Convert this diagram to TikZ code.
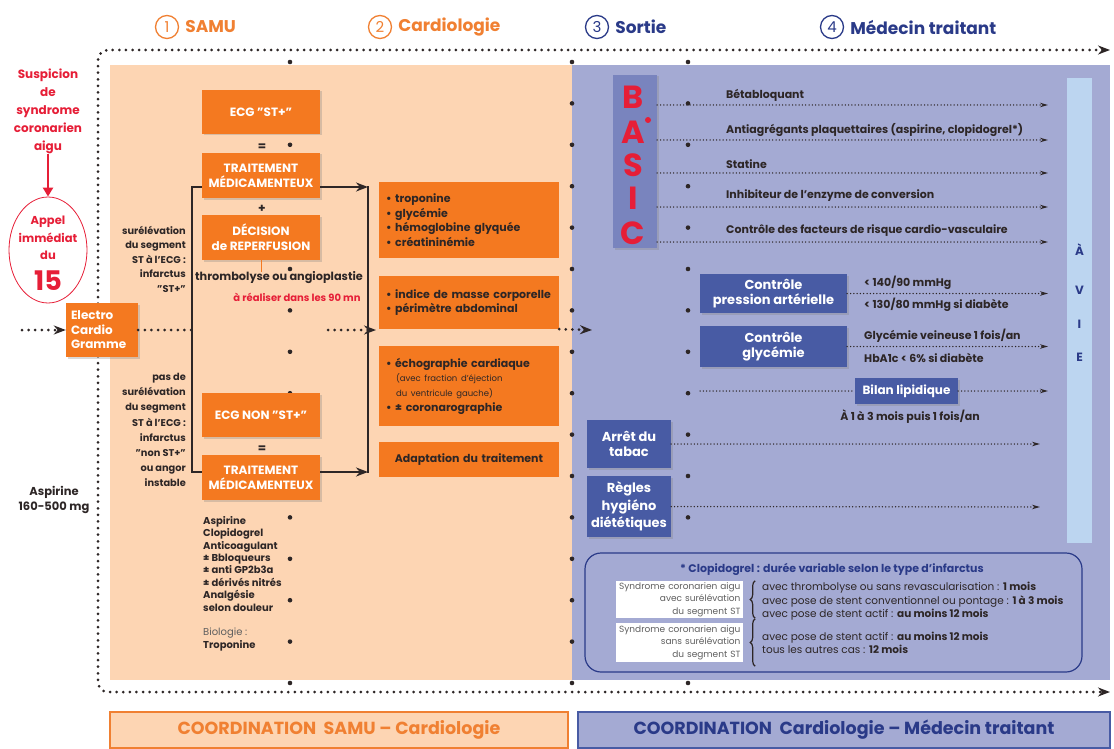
\documentclass[tikz,border=0pt]{standalone}
\usepackage{fontspec}
\setmainfont{Poppins}
\usetikzlibrary{positioning,arrows.meta,shapes.geometric,decorations.pathreplacing,shadows}

\definecolor{peche}{RGB}{253,213,179}
\definecolor{lavande}{RGB}{164,170,211}
\definecolor{orangebox}{RGB}{244,121,32}
\definecolor{orangetxt}{RGB}{240,128,50}
\definecolor{bleubox}{RGB}{72,91,164}
\definecolor{bleutxt}{RGB}{42,58,136}
\definecolor{bleubasic}{RGB}{121,132,190}
\definecolor{bleuvie}{RGB}{188,213,240}
\definecolor{rouge}{RGB}{230,30,55}
\definecolor{fonce}{RGB}{45,38,38}
\definecolor{gris}{RGB}{95,95,95}

\begin{document}
\begin{tikzpicture}[x=1pt,y=-1pt,
  pointille/.style={fonce,line width=3pt,line cap=round,dash pattern=on 0pt off 6.6pt},
  finpoint/.style={fonce,line width=1.5pt,line cap=round,dash pattern=on 0pt off 3.3pt},
  grandfleche/.style={-{Stealth[length=12pt,width=9pt]}},
  petitefleche/.style={-{Stealth[length=8pt,width=4.5pt]}},
  numero/.style={circle,draw,line width=1.3pt,minimum size=23pt,inner sep=0pt,font=\fontsize{15}{15}\selectfont},
  titre/.style={inner sep=1pt,font=\bfseries\fontsize{17}{17}\selectfont},
  ombre/.style={drop shadow={opacity=0.3,shadow xshift=1.5pt,shadow yshift=-1.5pt}},
  samubox/.style={fill=orangebox,text=white,align=center,inner sep=0pt,minimum width=118pt,minimum height=45pt,font=\bfseries\fontsize{12}{15}\selectfont,ombre},
  cardiobox/.style={fill=orangebox,text=fonce,align=left,inner sep=0pt,minimum width=180pt,text width=166pt,font=\bfseries\fontsize{11}{14.7}\selectfont},
  sortiebox/.style={fill=bleubox,text=white,align=center,inner sep=0pt,font=\bfseries\fontsize{13}{15.5}\selectfont,ombre},
  texte/.style={text=fonce,inner sep=0pt,font=\bfseries\fontsize{9.8}{14.5}\selectfont},
  basictxt/.style={text=fonce,inner sep=0pt,anchor=west,font=\bfseries\fontsize{11}{12}\selectfont},
  lettre/.style={text=rouge,inner sep=0pt,font=\bfseries\fontsize{32}{32}\selectfont},
  accolade/.style={decorate,decoration={brace,amplitude=5pt},line width=1.2pt,fonce},
  noteblanche/.style={fill=white,text=gris,align=right,inner sep=0pt,minimum width=127pt,text width=122pt,font=\fontsize{9}{12.3}\selectfont},
  notetxt/.style={text=fonce,align=left,inner sep=0pt,anchor=west,font=\fontsize{10.5}{13.5}\selectfont},
  bracket/.style={fonce,line width=2pt}
]
\useasboundingbox (0,0) rectangle (1114,749);

%fonds
\fill[peche] (110,65) rectangle (572,680);
\fill[lavande] (572,65) rectangle (1110,680);

%en-tetes
\node[numero,draw=orangetxt,text=orangetxt] (n1) at (167,27) {1};
\node[titre,text=orangetxt,right=5pt of n1] (t1) {SAMU};
\node[numero,draw=orangetxt,text=orangetxt] (n2) at (380,27) {2};
\node[titre,text=orangetxt,right=5pt of n2] (t2) {Cardiologie};
\node[numero,draw=bleutxt,text=bleutxt] (n3) at (597,27) {3};
\node[titre,text=bleutxt,right=5pt of n3] (t3) {Sortie};
\node[numero,draw=bleutxt,text=bleutxt] (n4) at (832,27) {4};
\node[titre,text=bleutxt,right=5pt of n4] (t4) {Médecin traitant};

%cadre
\coordinate (hautD) at (1110,50);
\coordinate (basD) at (1110,692);
\draw[pointille,rounded corners=10pt,{Stealth[length=12pt,width=9pt]}-{Stealth[length=12pt,width=9pt]}] (hautD) -- (98,50) -- (98,692) -- (basD);

\foreach \x in {290,572,688}
	\foreach \k in {0,...,15}
		\fill[fonce] (\x,62+41.4*\k) circle (2.3pt);

%appel
\node[text=rouge,align=center,inner sep=0pt,font=\bfseries\fontsize{12}{18}\selectfont] (susp) at (48,111) {Suspicion\\de\\syndrome\\coronarien\\aigu};
\node[ellipse,draw=rouge,line width=0.8pt,minimum width=78pt,minimum height=106pt] (appel) at (48,250) {};
\node[text=rouge,align=center,inner sep=0pt,font=\bfseries\fontsize{11.5}{17.5}\selectfont] (appeltxt) at (48,238) {Appel\\immédiat\\du};
\node[text=rouge,inner sep=0pt,font=\bfseries\fontsize{27}{27}\selectfont] (quinze) at (48,281) {15};
\draw[rouge,line width=2.5pt,-{Triangle[length=9pt,width=10pt]}] (susp.south) -- (appel.north);

%ecg
\node[fill=orangebox,text=white,align=left,inner sep=0pt,minimum width=72pt,minimum height=54pt,text width=62pt,font=\bfseries\fontsize{12}{14.5}\selectfont,ombre] (ecg) at (102,330) {Electro\\Cardio\\Gramme};
\coordinate (entree) at (22,330);
\draw[pointille,grandfleche] (entree) -- (ecg);

\node[texte,anchor=east,align=right] (stplus) at (186,259) {surélévation\\du segment\\ST à l'ECG :\\infarctus\\"ST+"};
\node[texte,anchor=east,align=right,font=\bfseries\fontsize{9.8}{15.1}\selectfont] (stnon) at (186,430) {pas de\\surélévation\\du segment\\ST à l'ECG :\\infarctus\\"non ST+"\\ou angor\\instable};
\node[texte,align=center,font=\bfseries\fontsize{11.5}{15}\selectfont] (aspi) at (54,500) {Aspirine\\160-500 mg};

%samu
\node[samubox,minimum height=44pt] (ecgst) at (261,112) {ECG "ST+"};
\node[texte,font=\bfseries\fontsize{12}{12}\selectfont] (egal1) at (262,147) {=};
\node[samubox] (trt1) at (261,175.5) {TRAITEMENT\\MÉDICAMENTEUX};
\node[texte,font=\bfseries\fontsize{12}{12}\selectfont] (plus) at (262,209) {+};
\node[samubox] (repf) at (261,237.5) {DÉCISION\\de REPERFUSION};
\node[texte,font=\bfseries\fontsize{11.3}{12}\selectfont] (thromb) at (279,278) {thrombolyse ou angioplastie};
\node[texte,text=rouge,font=\bfseries\fontsize{10}{12}\selectfont] (delai) at (297,297) {à réaliser dans les 90 mn};
\draw[orangebox,line width=0.8pt] (repf.south) -- (repf.south |- thromb.north);

\node[samubox,minimum height=44pt] (ecgnon) at (261,415) {ECG NON "ST+"};
\node[texte,font=\bfseries\fontsize{12}{12}\selectfont] (egal2) at (262,449) {=};
\node[samubox] (trt2) at (261,477.5) {TRAITEMENT\\MÉDICAMENTEUX};
\node[texte,anchor=north west,align=left,font=\bfseries\fontsize{10}{12.4}\selectfont] (trtliste) at (203,516) {Aspirine\\Clopidogrel\\Anticoagulant\\± Bbloqueurs\\± anti GP2b3a\\± dérivés nitrés\\Analgésie\\selon douleur};
\node[texte,anchor=north west,align=left,font=\fontsize{10}{12.4}\selectfont] (bio) at (203,628) {{\color{gris}Biologie :}\\\textbf{Troponine}};

\coordinate (g1) at (192,187);
\coordinate (g2) at (192,472);
\coordinate (d1) at (368,187);
\coordinate (d2) at (368,472);
\draw[bracket] (trt1.west |- g1) -- (g1) -- (g2) -- (trt2.west |- g2);
\draw[bracket] ([yshift=1pt]d1) -- ([yshift=-1pt]d2);
\draw[bracket,grandfleche] (trt1.east |- d1) -- (d1);
\draw[bracket,grandfleche] (trt2.east |- d2) -- (d2);
\draw[pointille] (ecg.east) -- (g1 |- ecg.east);
\coordinate (m1) at (328,330);
\coordinate (m2) at (376,330);
\draw[pointille,grandfleche] (m1) -- (m2);

%cardiologie
\node[cardiobox,minimum height=76pt] (c1) at (469,220) {\textbullet\ troponine\\\textbullet\ glycémie\\\textbullet\ hémoglobine glyquée\\\textbullet\ créatininémie};
\node[cardiobox,minimum height=53pt] (c2) at (469,302.5) {\textbullet\ indice de masse corporelle\\\textbullet\ périmètre abdominal};
\node[cardiobox,minimum height=80pt] (c3) at (469,386) {\textbullet\ échographie cardiaque\\{\mdseries\fontsize{8.5}{10}\selectfont\hspace*{10pt}(avec fraction d'éjection}\\{\mdseries\fontsize{8.5}{10}\selectfont\hspace*{10pt}du ventricule gauche)}\\\textbullet\ ± coronarographie};
\node[cardiobox,align=center,minimum height=35pt] (c4) at (469,459.5) {Adaptation du traitement};
\coordinate (sortie) at (592,330);
\draw[pointille,grandfleche] (c2.south east) -- (sortie);

%sortie
\node[fill=bleubasic,minimum width=44pt,minimum height=173pt,inner sep=0pt,ombre] (basic) at (635,161.5) {};
\node[lettre] (lb) at (633,97) {B};
\node[lettre] (la) at (633,132) {A};
\fill[rouge] (648,120) circle (3pt);
\node[lettre] (ls) at (633,165) {S};
\node[lettre] (li) at (633,198) {I};
\node[lettre] (lc) at (633,233) {C};

\node[fill=bleuvie,minimum width=25pt,minimum height=465pt,inner sep=0pt] (vie) at (1079.5,310.5) {};
\node[text=bleutxt,inner sep=0pt,font=\bfseries\fontsize{12}{12}\selectfont] (avie) at (1079.5,250) {À};
\node[text=bleutxt,inner sep=0pt,align=center,font=\bfseries\fontsize{12}{33.5}\selectfont] (mvie) at (1079.5,324) {V\\I\\E};

\foreach \y/\n in {105/a,140/b,173/c,207/d,242/e}{
	\coordinate (fin\n) at (1048,\y);
	\draw[finpoint,petitefleche] (basic.east |- fin\n) -- (fin\n);
}
\node[basictxt] (tb) at (726,95) {Bétabloquant};
\node[basictxt] (ta) at (726,130) {Antiagrégants plaquettaires (aspirine, clopidogrel*)};
\node[basictxt] (ts) at (726,164) {Statine};
\node[basictxt] (ti) at (726,196) {Inhibiteur de l'enzyme de conversion};
\node[basictxt] (tc) at (726,231) {Contrôle des facteurs de risque cardio-vasculaire};

\node[sortiebox,minimum width=147pt,minimum height=39pt] (cpa) at (773.5,293.5) {Contrôle\\pression artérielle};
\node[sortiebox,minimum width=147pt,minimum height=41pt] (cgly) at (773.5,346.5) {Contrôle\\glycémie};
\node[sortiebox,minimum width=103pt,minimum height=26pt,font=\bfseries\fontsize{12}{15}\selectfont] (bilan) at (906.5,391) {Bilan lipidique};
\coordinate (fincpa) at (1048,293.5);
\coordinate (fincgly) at (1048,346.5);
\coordinate (debbilan) at (700,391);
\coordinate (finbilan) at (1048,391);
\draw[finpoint,petitefleche] (cpa) -- (fincpa);
\draw[finpoint,petitefleche] (cgly) -- (fincgly);
\draw[finpoint] (debbilan) -- (bilan);
\draw[finpoint,petitefleche] (bilan) -- (finbilan);
\node[basictxt] (pa1) at (864,283) {< 140/90 mmHg};
\node[basictxt] (pa2) at (864,305) {< 130/80 mmHg si diabète};
\node[basictxt] (gl1) at (864,336) {Glycémie veineuse 1 fois/an};
\node[basictxt] (gl2) at (864,358) {HbA1c < 6\% si diabète};
\node[basictxt,anchor=center] (bl) at (910,417) {À 1 à 3 mois puis 1 fois/an};

\node[sortiebox,minimum width=84pt,minimum height=48pt] (tabac) at (629,444) {Arrêt du\\tabac};
\node[sortiebox,minimum width=84pt,minimum height=61pt,font=\bfseries\fontsize{13}{17.5}\selectfont] (regles) at (629,506.5) {Règles\\hygiéno\\diététiques};
\coordinate (fintabac) at (1040,444);
\coordinate (finregles) at (1040,507);
\draw[finpoint,petitefleche] (tabac) -- (fintabac);
\draw[finpoint,petitefleche] (regles) -- (finregles);

%clopidogrel
\node[draw=bleutxt,line width=1.2pt,rounded corners=16pt,fill=lavande,minimum width=497pt,minimum height=119pt] (note) at (833.5,612.5) {};
\node[text=bleutxt,inner sep=0pt,font=\bfseries\fontsize{11}{12}\selectfont] (notetitre) at (832,569) {* Clopidogrel : durée variable selon le type d'infarctus};
\node[noteblanche,minimum height=37pt] (sca1) at (679.5,599.5) {Syndrome coronarien aigu\\avec surélévation\\du segment ST};
\node[noteblanche,minimum height=39pt] (sca2) at (679.5,642.5) {Syndrome coronarien aigu\\sans surélévation\\du segment ST};
\draw[accolade] ([xshift=12pt]sca1.south east) -- ([xshift=12pt]sca1.north east);
\draw[accolade] ([xshift=12pt,yshift=-4pt]sca2.south east) -- ([xshift=12pt,yshift=4pt]sca2.north east);
\node[notetxt] (dur1) at (762,601.5) {avec thrombolyse ou sans revascularisation : \textbf{1 mois}\\avec pose de stent conventionnel ou pontage : \textbf{1 à 3 mois}\\avec pose de stent actif : \textbf{au moins 12 mois}};
\node[notetxt] (dur2) at (762,643) {avec pose de stent actif : \textbf{au moins 12 mois}\\tous les autres cas : \textbf{12 mois}};

%coordination
\node[fill=peche,draw=orangetxt,line width=1.2pt,minimum width=458pt,minimum height=36pt,text=orangetxt,font=\bfseries\fontsize{17.5}{17.5}\selectfont] (coord1) at (339,730) {COORDINATION\ \ SAMU – Cardiologie};
\node[fill=lavande,draw=bleubox,line width=1.2pt,minimum width=532pt,minimum height=36pt,text=bleutxt,font=\bfseries\fontsize{17.5}{17.5}\selectfont] (coord2) at (844,730) {COORDINATION\ \ Cardiologie – Médecin traitant};

\end{tikzpicture}
\end{document}
